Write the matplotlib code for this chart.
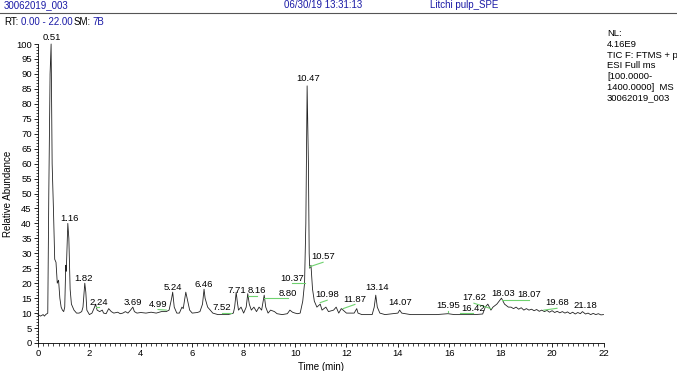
import matplotlib.pyplot as plt
from matplotlib.ticker import MultipleLocator
from matplotlib.lines import Line2D

plt.rcParams['font.family'] = ['Liberation Sans', 'DejaVu Sans']

# chromatogram trace (time in min, relative abundance in %)
rt = [0.0, 0.1, 0.2, 0.25, 0.3, 0.38, 0.42, 0.47, 0.51, 0.55, 0.6, 0.65, 0.7, 0.75,
      0.8, 0.85, 0.9, 0.95, 1.0, 1.04, 1.08, 1.1, 1.16, 1.2, 1.25, 1.3, 1.35, 1.4,
      1.5, 1.6, 1.7, 1.75, 1.82, 1.86, 1.9, 2.0, 2.1, 2.2, 2.24, 2.3, 2.4, 2.5,
      2.55, 2.65, 2.75, 2.85, 2.95, 3.1, 3.2, 3.3, 3.4, 3.5, 3.6, 3.69, 3.75, 3.85,
      4.0, 4.2, 4.4, 4.6, 4.8, 4.99, 5.1, 5.2, 5.24, 5.3, 5.4, 5.5, 5.6, 5.65,
      5.75, 5.8, 5.9, 6.0, 6.2, 6.3, 6.4, 6.46, 6.5, 6.6, 6.7, 6.8, 7.0, 7.2,
      7.4, 7.52, 7.6, 7.65, 7.71, 7.75, 7.8, 7.9, 8.0, 8.1, 8.16, 8.22, 8.3, 8.4,
      8.5, 8.6, 8.7, 8.8, 8.86, 8.95, 9.05, 9.2, 9.3, 9.5, 9.7, 9.8, 9.9, 10.0,
      10.1, 10.2, 10.3, 10.37, 10.42, 10.47, 10.52, 10.55, 10.57, 10.62, 10.68,
      10.75, 10.85, 10.98, 11.05, 11.2, 11.3, 11.5, 11.6, 11.7, 11.8, 11.87, 12.0,
      12.3, 12.4, 12.45, 12.6, 13.0, 13.08, 13.14, 13.2, 13.3, 13.5, 14.0, 14.07,
      14.15, 14.5, 15.0, 15.5, 15.95, 16.2, 16.42, 16.7, 17.0, 17.3, 17.4, 17.5,
      17.62, 17.7, 17.85, 18.03, 18.15, 18.3, 18.4, 18.5, 18.6, 18.7, 18.8, 18.9,
      19.0, 19.1, 19.2, 19.3, 19.4, 19.5, 19.6, 19.7, 19.8, 19.9, 20.0, 20.1,
      20.2, 20.3, 20.4, 20.5, 20.6, 20.7, 20.8, 20.9, 21.0, 21.1, 21.18, 21.3,
      21.4, 21.5, 21.6, 21.7, 21.8, 21.9, 22.0]
abundance = [9.5, 9.0, 9.5, 9.0, 9.5, 10.0, 50, 90, 100, 60, 45, 28, 27, 20,
             21, 15, 12, 11, 10.5, 12, 26, 24, 40, 35, 18, 13, 12, 11,
             10, 10, 10.5, 12, 20, 17, 11, 9.5, 10, 12, 13, 11, 10.5, 11,
             10, 9.8, 11.5, 10.5, 10, 10.3, 9.8, 10, 10.5, 10, 11, 12, 10.5, 10,
             10.2, 10, 10.3, 10, 10.5, 10.5, 11, 15, 17, 12, 10, 10, 12, 11.5,
             17, 15, 11, 10, 10.2, 10.5, 13, 18, 15, 12, 11, 10, 9.5, 9.5,
             9.5, 9.8, 10, 12, 17, 14, 11, 12, 10, 12, 16.5, 13, 11, 12,
             10.5, 12, 11, 16, 12, 10, 11, 10.5, 9.8, 9.5, 9.8, 11, 10.3, 10,
             9.8, 10, 14, 20, 40, 86, 60, 30, 25, 26, 18,
             14, 12, 13, 11, 12, 10.5, 11, 12, 10, 11.5, 11, 10,
             10, 11.5, 10, 9.5, 9.5, 12, 16, 12, 10, 9.5, 10, 11,
             10, 9.5, 9.5, 9.5, 9.8, 9.5, 9.5, 9.5, 9.5, 9.7, 12, 13,
             11, 12, 13, 15, 13, 12, 12, 11.5, 12, 11.3, 11.8, 11,
             11.5, 11, 11.3, 10.8, 11.2, 10.6, 11, 10.5, 10.9, 10.3, 10.8, 10.2,
             10.6, 10.1, 10.5, 10, 10.4, 9.8, 10.3, 9.7, 10.2, 9.8, 10.5, 9.7,
             10, 9.5, 9.9, 9.5, 9.8, 9.4, 9.5]

# peak labels: text, label position, peak position, green leader line or not
peak_text = ['0.51', '1.16', '1.82', '2.24', '3.69', '4.99', '5.24', '6.46', '7.52',
             '7.71', '8.16', '8.80', '10.37', '10.47', '10.57', '10.98', '11.87',
             '13.14', '14.07', '15.95', '16.42', '17.62', '18.03', '18.07', '19.68',
             '21.18']
label_x = [0.54, 1.21, 1.76, 2.37, 3.70, 4.67, 5.25, 6.46, 7.16, 7.74, 8.52, 9.73,
           9.88, 10.51, 11.09, 11.25, 12.33, 13.19, 14.09, 15.95, 16.93, 16.96,
           18.09, 19.11, 20.19, 21.28]
label_y = [102.3, 41.8, 21.7, 13.7, 13.7, 13.0, 18.7, 19.7, 12.0, 17.7, 17.4, 16.7,
           21.7, 88.3, 28.8, 16.1, 14.7, 18.4, 13.7, 12.4, 11.7, 15.1, 16.7, 16.1,
           13.4, 12.4]
peak_y = [100, 40, 20, 13, 12, 10.5, 17, 18, 9.8, 17, 16.5, 16, 20, 86, 25, 13, 11,
          16, 11, 9.8, 9.5, 11, 15, 15, 10.5, 10.5]
leader = [False, False, False, True, False, True, False, False, True, False, True,
          True, True, False, True, True, True, False, False, True, True, True,
          False, True, True, False]

fig = plt.figure(figsize=(6.77, 3.71), dpi=100)
ax = fig.add_axes([38 / 677, 28 / 371, 565.5 / 677, 299 / 371])

ax.plot(rt, abundance, color='#222222', lw=0.6, clip_on=False)

for txt, lx, ly, py, lead in zip(peak_text, label_x, label_y, peak_y, leader):
    ax.text(lx, ly, txt, ha='center', va='center', fontsize=6.8, clip_on=False)
    if lead:
        pt = float(txt)
        ax.plot([pt, lx], [min(py + 0.5, ly - 1.8), ly - 1.8], color='#6fd26f',
                lw=0.8, clip_on=False)

ax.set_xlim(0, 22)
ax.set_ylim(0, 100)
ax.xaxis.set_major_locator(MultipleLocator(2))
ax.xaxis.set_minor_locator(MultipleLocator(0.2))
ax.yaxis.set_major_locator(MultipleLocator(5))
ax.yaxis.set_minor_locator(MultipleLocator(1))
ax.tick_params(which='major', direction='out', length=3, width=0.6, labelsize=6.8, pad=1.5)
ax.tick_params(which='minor', direction='out', length=1.8, width=0.5)
for s in ['top', 'right']:
    ax.spines[s].set_visible(False)
for s in ['left', 'bottom']:
    ax.spines[s].set_linewidth(0.6)

ax.set_xlabel('Time (min)', fontsize=7, labelpad=3)
ax.set_ylabel('Relative Abundance', fontsize=7, labelpad=2)

# header
blue = '#1a1aa6'
fig.text(4 / 677, 1 - 5 / 371, '30062019_003', color=blue, fontsize=7, va='center')
fig.text(284 / 677, 1 - 5 / 371, '06/30/19 13:31:13', color=blue, fontsize=7, va='center')
fig.text(430 / 677, 1 - 5 / 371, 'Litchi pulp_SPE', color=blue, fontsize=7, va='center')
fig.add_artist(Line2D([0, 1], [1 - 13 / 371, 1 - 13 / 371], color='#555555', lw=0.8))
fig.text(4 / 677, 1 - 22 / 371, 'RT:', color='black', fontsize=7, va='center')
fig.text(21 / 677, 1 - 22 / 371, '0.00 - 22.00', color=blue, fontsize=7, va='center')
fig.text(74 / 677, 1 - 22 / 371, 'SM:', color='black', fontsize=7, va='center')
fig.text(92 / 677, 1 - 22 / 371, '7B', color=blue, fontsize=7, va='center')

fig.text(607 / 677, 1 - 29 / 371,
         'NL:\n4.16E9\nTIC F: FTMS + p\nESI Full ms\n[100.0000-\n1400.0000]  MS\n30062019_003',
         fontsize=6.8, va='top', ha='left', linespacing=1.25)

fig.savefig('out.png', dpi=100, facecolor='white')
